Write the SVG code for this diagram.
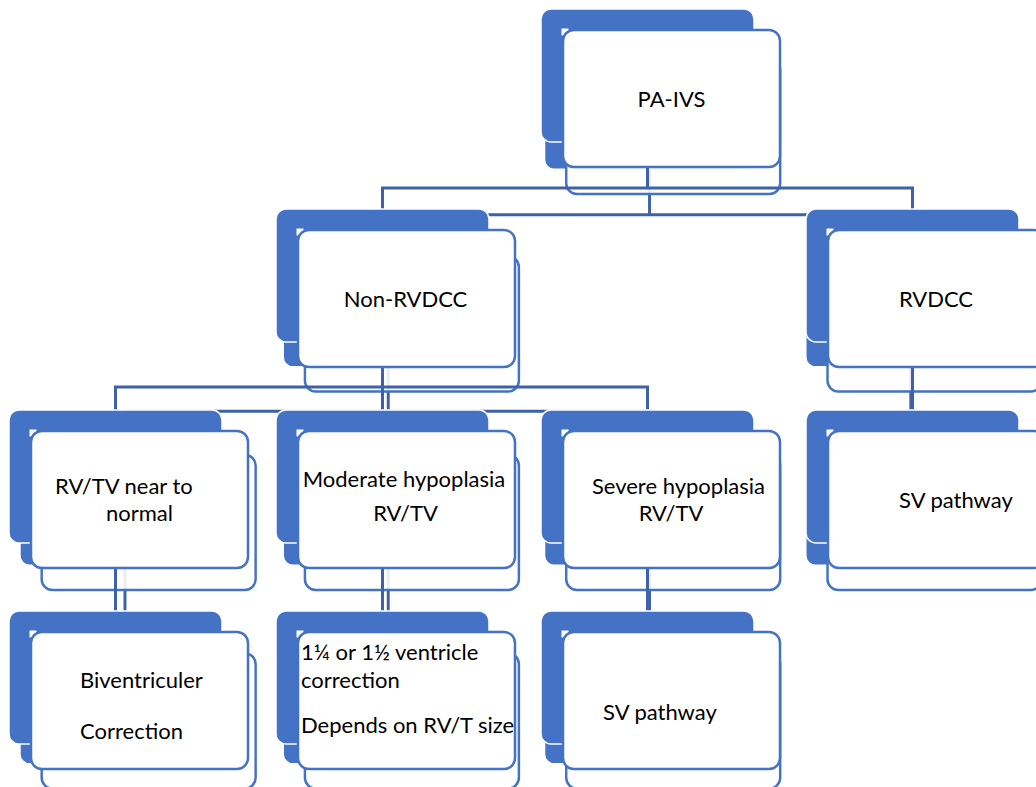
<svg xmlns="http://www.w3.org/2000/svg" xmlns:xlink="http://www.w3.org/1999/xlink" width="1036" height="787" viewBox="0 0 1036 787">
  <style>
    .conn { fill: none; stroke: #3d62a8; stroke-width: 3; }
    .lbl { font-family: Lato, "Liberation Sans", sans-serif; font-size: 22px; fill: #000; }
    .mid { text-anchor: middle; }
  </style>
  <defs>
    <g id="shape1">
      <rect x="0" y="0" width="213" height="133" rx="10" fill="#4472c4" stroke="#ffffff" stroke-width="1.5"/>
      <rect x="20.5" y="19.5" width="7" height="7" fill="#ffffff"/>
      <rect x="22" y="21" width="217" height="137" rx="11" fill="#ffffff" stroke="#4472c4" stroke-width="2.5"/>
    </g>
    <g id="shape2">
      <rect x="0" y="0" width="213" height="133" rx="10" fill="#4472c4" stroke="#ffffff" stroke-width="1.5"/>
      <rect x="22" y="21" width="217" height="137" rx="11" fill="#ffffff" fill-opacity="0.88" stroke="#4472c4" stroke-width="2.5"/>
    </g>
  </defs>
  <rect width="1036" height="787" fill="#ffffff"/>

  <g id="shadow-copy" transform="matrix(0.986 0 0 0.9875 11.1 29.1)">
    <g id="connectors-shadow">
      <path class="conn" d="M647.5 142 V188 M382.5 188 H912.5 M382.5 186.5 V209 M912.5 186.5 V209 M382.5 343 V387 M115.5 387 H647.5 M115.5 385.5 V410 M382.5 387 V410 M647.5 385.5 V410 M912.5 343 V410 M115.5 543 V611 M382.5 543 V611 M647.5 543 V611"/>
    </g>
    <use xlink:href="#shape2" x="541" y="9"/>
    <use xlink:href="#shape2" x="276" y="209"/>
    <use xlink:href="#shape2" x="806" y="209"/>
    <use xlink:href="#shape2" x="9" y="410"/>
    <use xlink:href="#shape2" x="276" y="410"/>
    <use xlink:href="#shape2" x="541" y="410"/>
    <use xlink:href="#shape2" x="806" y="410"/>
    <use xlink:href="#shape2" x="9" y="611"/>
    <use xlink:href="#shape2" x="276" y="611"/>
    <use xlink:href="#shape2" x="541" y="611"/>
  </g>

  <g id="connectors">
    <path class="conn" d="M647.5 142 V188 M382.5 188 H912.5 M382.5 186.5 V209 M912.5 186.5 V209 M382.5 343 V387 M115.5 387 H647.5 M115.5 385.5 V410 M382.5 387 V410 M647.5 385.5 V410 M912.5 343 V410 M115.5 543 V611 M382.5 543 V611 M647.5 543 V611"/>
  </g>

  <g id="node-pa-ivs">
    <use xlink:href="#shape1" x="541" y="9"/>
    <text class="lbl mid" x="671.5" y="107">PA-IVS</text>
  </g>
  <g id="node-non-rvdcc">
    <use xlink:href="#shape1" x="276" y="209"/>
    <text class="lbl mid" x="405.5" y="307">Non-RVDCC</text>
  </g>
  <g id="node-rvdcc">
    <use xlink:href="#shape1" x="806" y="209"/>
    <text class="lbl mid" x="936" y="307">RVDCC</text>
  </g>
  <g id="node-rvtv-normal">
    <use xlink:href="#shape1" x="9" y="410"/>
    <text class="lbl" x="55" y="494">RV/TV near to</text>
    <text class="lbl" x="106" y="521">normal</text>
  </g>
  <g id="node-moderate">
    <use xlink:href="#shape1" x="276" y="410"/>
    <text class="lbl mid" x="404" y="487">Moderate hypoplasia</text>
    <text class="lbl mid" x="405.5" y="521">RV/TV</text>
  </g>
  <g id="node-severe">
    <use xlink:href="#shape1" x="541" y="410"/>
    <text class="lbl mid" x="678.5" y="494">Severe hypoplasia</text>
    <text class="lbl mid" x="671" y="521">RV/TV</text>
  </g>
  <g id="node-sv-rvdcc">
    <use xlink:href="#shape1" x="806" y="410"/>
    <text class="lbl" x="899" y="508">SV pathway</text>
  </g>
  <g id="node-biventricular">
    <use xlink:href="#shape1" x="9" y="611"/>
    <text class="lbl" x="80" y="688">Biventriculer</text>
    <text class="lbl" x="80" y="739">Correction</text>
  </g>
  <g id="node-one-and-half">
    <use xlink:href="#shape1" x="276" y="611"/>
    <text class="lbl" x="301" y="660">1¼ or 1½ ventricle</text>
    <text class="lbl" x="301" y="688">correction</text>
    <text class="lbl" x="301" y="733">Depends on RV/T size</text>
  </g>
  <g id="node-sv-severe">
    <use xlink:href="#shape1" x="541" y="611"/>
    <text class="lbl" x="603" y="720">SV pathway</text>
  </g>
</svg>
